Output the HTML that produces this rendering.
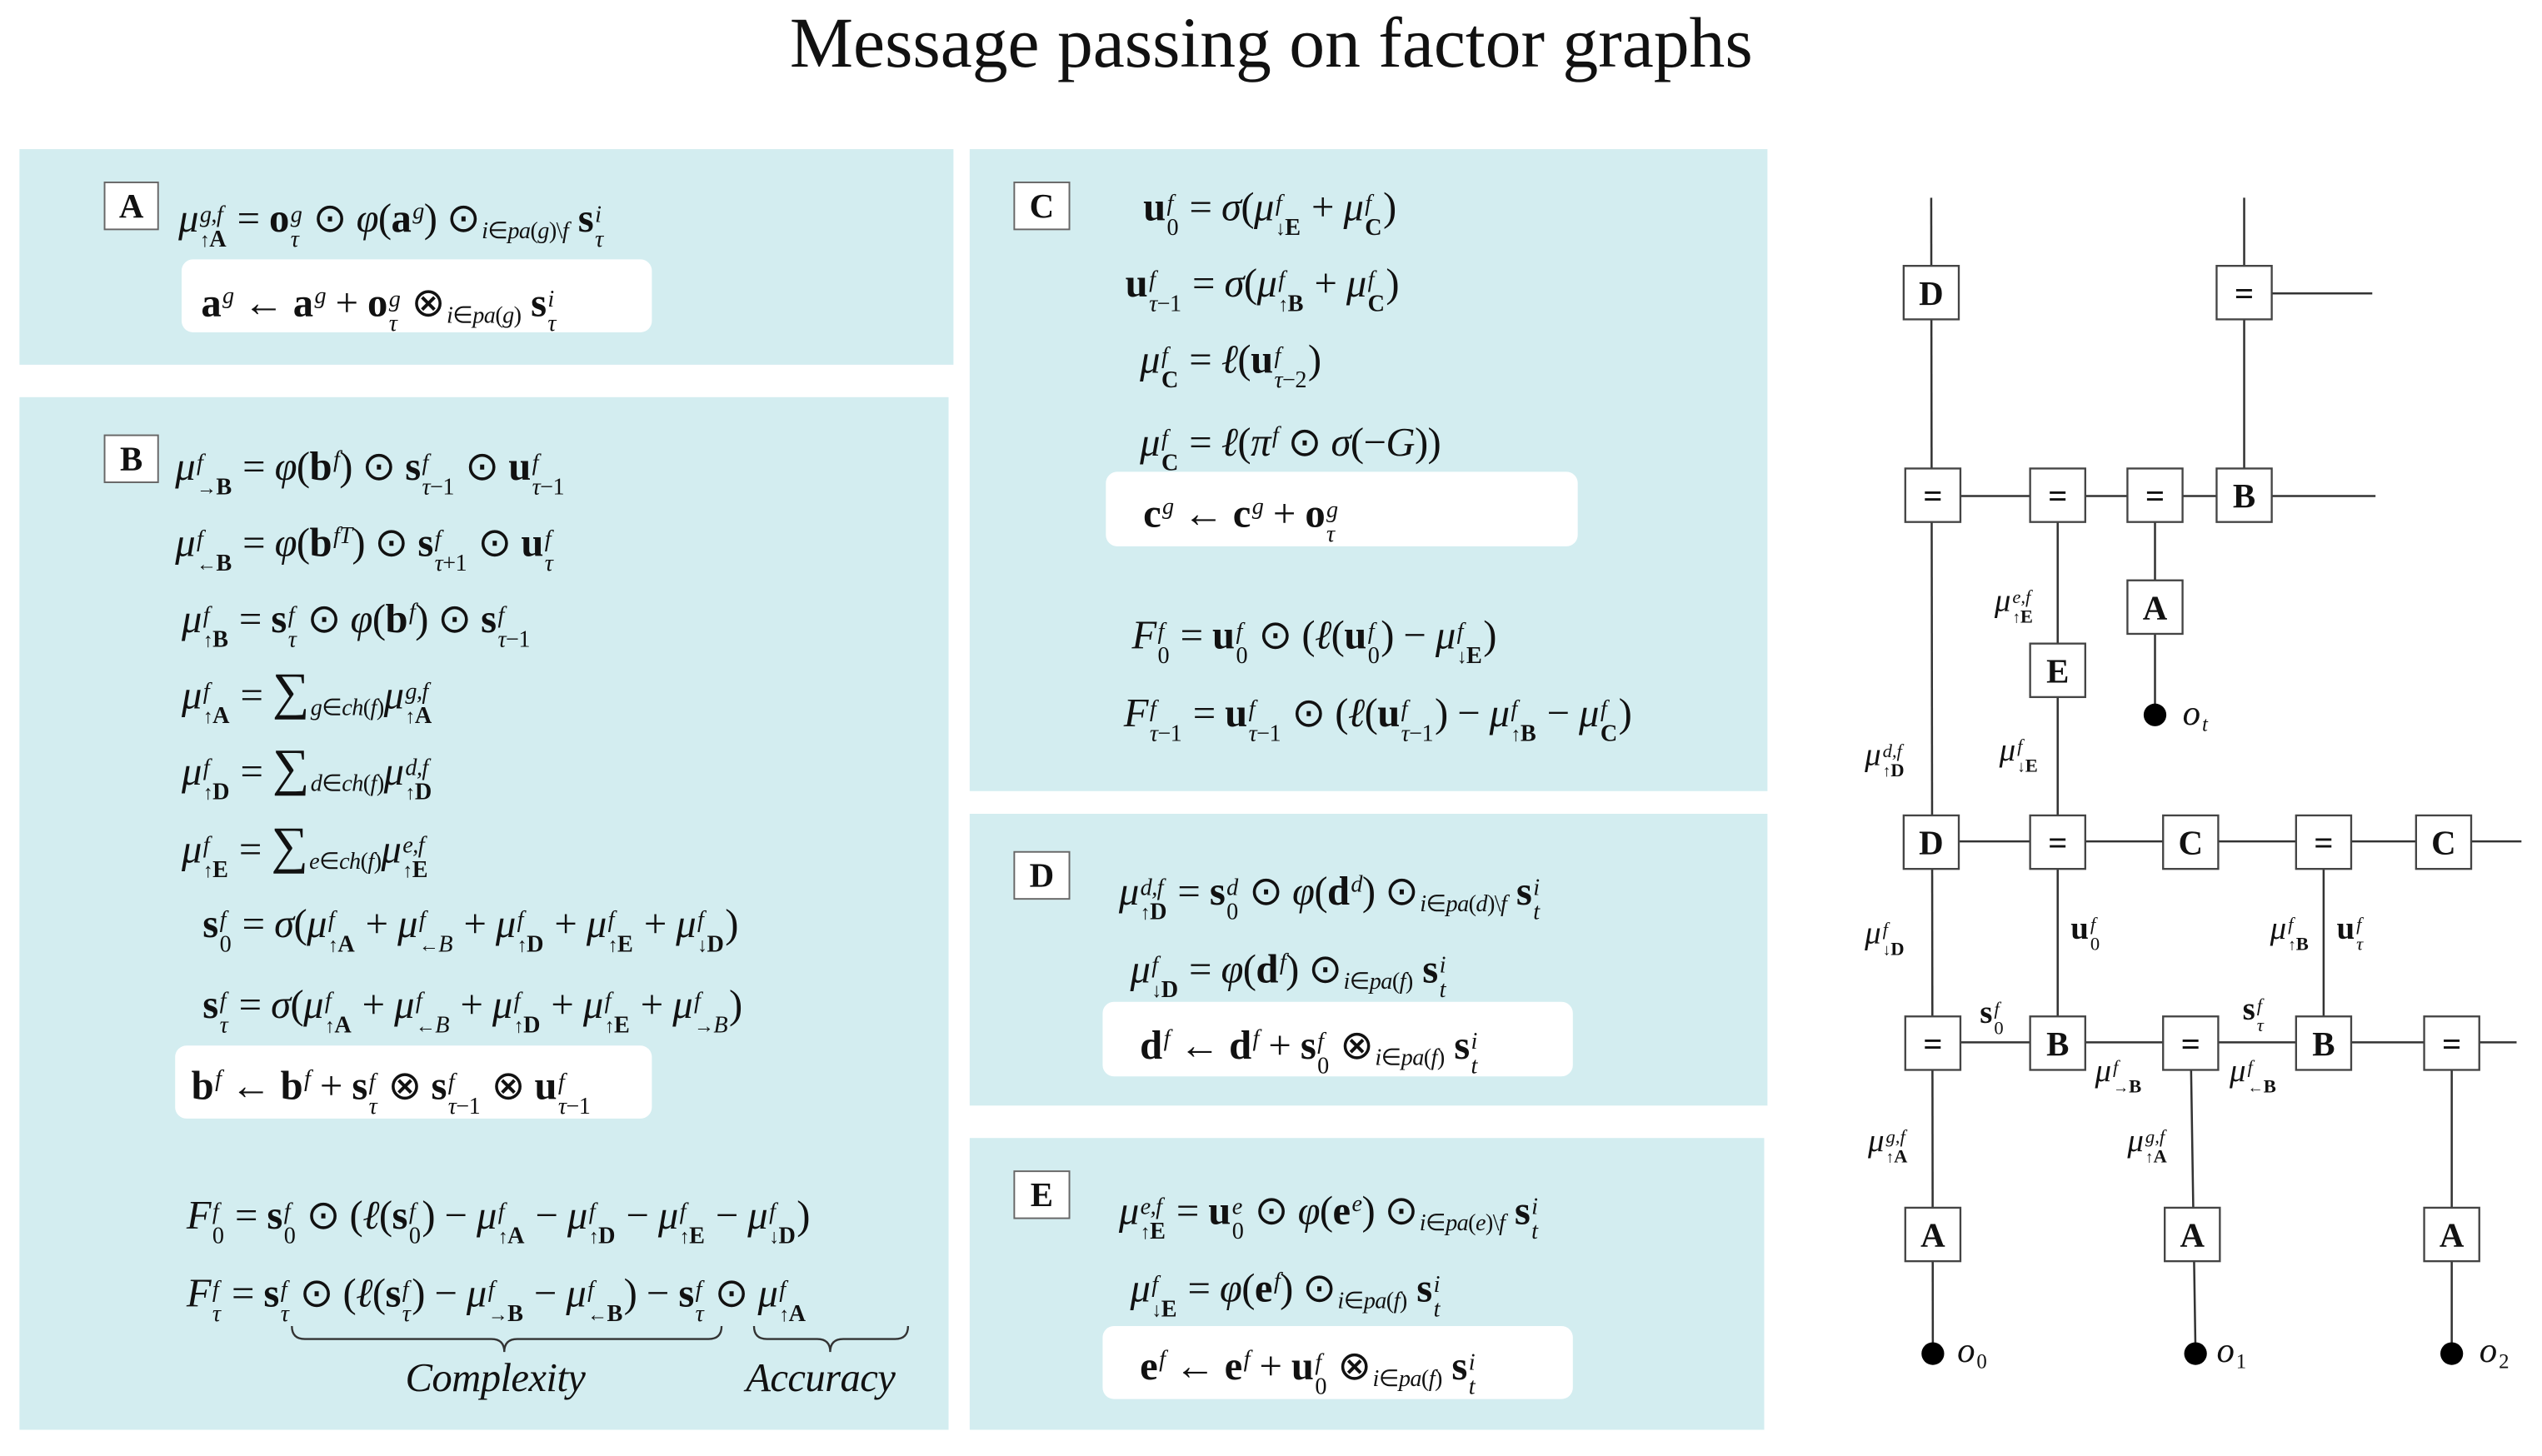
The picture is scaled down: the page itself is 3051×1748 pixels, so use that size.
<!DOCTYPE html>
<html><head><meta charset="utf-8">
<style>
html,body{margin:0;padding:0;background:#fff;}
body{width:3051px;height:1747px;overflow:hidden;position:relative;}
#w{position:absolute;left:0;top:0;width:1568px;height:898px;transform-origin:0 0;transform:scale(1.9462,1.9462);font-family:"Liberation Serif",serif;color:#111;}
.p{position:absolute;background:#d3edf0;}
.wb{position:absolute;background:#fff;border-radius:7px;}
.bx{position:absolute;background:#fff;border:1px solid #666;font-weight:bold;font-size:21px;text-align:center;box-sizing:border-box;}
.t{position:absolute;white-space:nowrap;line-height:30px;font-size:25px;letter-spacing:-0.3px;}
.g{position:absolute;white-space:nowrap;line-height:30px;font-size:20px;}
i{font-style:italic;}
b{font-weight:bold;}
.ss{display:inline-flex;flex-direction:column;font-size:0.58em;line-height:1.05em;vertical-align:0.42em;margin-left:1px;margin-right:1px;}
.sp{font-size:0.58em;vertical-align:0.55em;margin-left:1px;}
.sb{font-size:0.58em;vertical-align:-0.3em;margin-left:1px;}
.ar{font-weight:normal;font-size:0.85em;}
</style></head><body><div id="w">

<div style="position:absolute;left:0;width:1568px;top:2px;text-align:center;font-size:44px;line-height:50px;">Message passing on factor graphs</div>

<div class="p" style="left:12px;top:92px;width:576px;height:133px;"></div>
<div class="p" style="left:12px;top:245px;width:573px;height:637px;"></div>
<div class="p" style="left:598px;top:92px;width:492px;height:396px;"></div>
<div class="p" style="left:598px;top:502px;width:492px;height:180px;"></div>
<div class="p" style="left:598px;top:702px;width:490px;height:180px;"></div>

<div class="wb" style="left:112px;top:160px;width:290px;height:45px;"></div>
<div class="wb" style="left:108px;top:645px;width:294px;height:45px;"></div>
<div class="wb" style="left:682px;top:291px;width:291px;height:46px;"></div>
<div class="wb" style="left:680px;top:618px;width:290px;height:46px;"></div>
<div class="wb" style="left:680px;top:818px;width:290px;height:45px;"></div>

<div class="bx" style="left:64px;top:112px;width:34px;height:30px;line-height:28px;">A</div>
<div class="bx" style="left:64px;top:268px;width:34px;height:30px;line-height:28px;">B</div>
<div class="bx" style="left:625px;top:112px;width:35px;height:30px;line-height:28px;">C</div>
<div class="bx" style="left:625px;top:525px;width:35px;height:30px;line-height:28px;">D</div>
<div class="bx" style="left:625px;top:722px;width:35px;height:30px;line-height:28px;">E</div>

<div class="t" style="left:110px;top:116px;"><i>μ</i><span class="ss"><i>g,f</i><b><span class="ar">↑</span>A</b></span> = <b>o</b><span class="ss"><i>g</i><i>τ</i></span> ⊙ <i>φ</i>(<b>a</b><span class="sp"><i>g</i></span>) ⊙<span class="sb"><i>i</i>∈<i>pa</i>(<i>g</i>)\<i>f</i></span> <b>s</b><span class="ss"><i>i</i><i>τ</i></span></div>
<div class="t" style="left:124px;top:168px;"><b>a</b><span class="sp"><i>g</i></span> ← <b>a</b><span class="sp"><i>g</i></span> + <b>o</b><span class="ss"><i>g</i><i>τ</i></span> ⊗<span class="sb"><i>i</i>∈<i>pa</i>(<i>g</i>)</span> <b>s</b><span class="ss"><i>i</i><i>τ</i></span></div>

<div class="t" style="left:108px;top:269px;"><i>μ</i><span class="ss"><i>f</i><b><span class="ar">→</span>B</b></span> = <i>φ</i>(<b>b</b><span class="sp"><i>f</i></span>) ⊙ <b>s</b><span class="ss"><i>f</i><span><i>τ</i>−1</span></span> ⊙ <b>u</b><span class="ss"><i>f</i><span><i>τ</i>−1</span></span></div>
<div class="t" style="left:108px;top:316px;"><i>μ</i><span class="ss"><i>f</i><b><span class="ar">←</span>B</b></span> = <i>φ</i>(<b>b</b><span class="sp"><i>fT</i></span>) ⊙ <b>s</b><span class="ss"><i>f</i><span><i>τ</i>+1</span></span> ⊙ <b>u</b><span class="ss"><i>f</i><i>τ</i></span></div>
<div class="t" style="left:112px;top:363px;"><i>μ</i><span class="ss"><i>f</i><b><span class="ar">↑</span>B</b></span> = <b>s</b><span class="ss"><i>f</i><i>τ</i></span> ⊙ <i>φ</i>(<b>b</b><span class="sp"><i>f</i></span>) ⊙ <b>s</b><span class="ss"><i>f</i><span><i>τ</i>−1</span></span></div>
<div class="t" style="left:112px;top:411px;"><i>μ</i><span class="ss"><i>f</i><b><span class="ar">↑</span>A</b></span> = <span style="font-size:32px">∑</span><span class="sb"><i>g</i>∈<i>ch</i>(<i>f</i>)</span><i>μ</i><span class="ss"><i>g,f</i><b><span class="ar">↑</span>A</b></span></div>
<div class="t" style="left:112px;top:458px;"><i>μ</i><span class="ss"><i>f</i><b><span class="ar">↑</span>D</b></span> = <span style="font-size:32px">∑</span><span class="sb"><i>d</i>∈<i>ch</i>(<i>f</i>)</span><i>μ</i><span class="ss"><i>d,f</i><b><span class="ar">↑</span>D</b></span></div>
<div class="t" style="left:112px;top:506px;"><i>μ</i><span class="ss"><i>f</i><b><span class="ar">↑</span>E</b></span> = <span style="font-size:32px">∑</span><span class="sb"><i>e</i>∈<i>ch</i>(<i>f</i>)</span><i>μ</i><span class="ss"><i>e,f</i><b><span class="ar">↑</span>E</b></span></div>
<div class="t" style="left:125px;top:556px;"><b>s</b><span class="ss"><i>f</i><span>0</span></span> = <i>σ</i>(<i>μ</i><span class="ss"><i>f</i><b><span class="ar">↑</span>A</b></span> + <i>μ</i><span class="ss"><i>f</i><i><span class="ar">←</span>B</i></span> + <i>μ</i><span class="ss"><i>f</i><b><span class="ar">↑</span>D</b></span> + <i>μ</i><span class="ss"><i>f</i><b><span class="ar">↑</span>E</b></span> + <i>μ</i><span class="ss"><i>f</i><b><span class="ar">↓</span>D</b></span>)</div>
<div class="t" style="left:125px;top:606px;"><b>s</b><span class="ss"><i>f</i><i>τ</i></span> = <i>σ</i>(<i>μ</i><span class="ss"><i>f</i><b><span class="ar">↑</span>A</b></span> + <i>μ</i><span class="ss"><i>f</i><i><span class="ar">←</span>B</i></span> + <i>μ</i><span class="ss"><i>f</i><b><span class="ar">↑</span>D</b></span> + <i>μ</i><span class="ss"><i>f</i><b><span class="ar">↑</span>E</b></span> + <i>μ</i><span class="ss"><i>f</i><i><span class="ar">→</span>B</i></span>)</div>
<div class="t" style="left:118px;top:651px;"><b>b</b><span class="sp"><i>f</i></span> ← <b>b</b><span class="sp"><i>f</i></span> + <b>s</b><span class="ss"><i>f</i><i>τ</i></span> ⊗ <b>s</b><span class="ss"><i>f</i><span><i>τ</i>−1</span></span> ⊗ <b>u</b><span class="ss"><i>f</i><span><i>τ</i>−1</span></span></div>
<div class="t" style="left:115px;top:736px;"><i>F</i><span class="ss"><i>f</i><span>0</span></span> = <b>s</b><span class="ss"><i>f</i><span>0</span></span> ⊙ (<i>ℓ</i>(<b>s</b><span class="ss"><i>f</i><span>0</span></span>) − <i>μ</i><span class="ss"><i>f</i><b><span class="ar">↑</span>A</b></span> − <i>μ</i><span class="ss"><i>f</i><b><span class="ar">↑</span>D</b></span> − <i>μ</i><span class="ss"><i>f</i><b><span class="ar">↑</span>E</b></span> − <i>μ</i><span class="ss"><i>f</i><b><span class="ar">↓</span>D</b></span>)</div>
<div class="t" style="left:115px;top:784px;"><i>F</i><span class="ss"><i>f</i><i>τ</i></span> = <b>s</b><span class="ss"><i>f</i><i>τ</i></span> ⊙ (<i>ℓ</i>(<b>s</b><span class="ss"><i>f</i><i>τ</i></span>) − <i>μ</i><span class="ss"><i>f</i><b><span class="ar">→</span>B</b></span> − <i>μ</i><span class="ss"><i>f</i><b><span class="ar">←</span>B</b></span>) − <b>s</b><span class="ss"><i>f</i><i>τ</i></span> ⊙ <i>μ</i><span class="ss"><i>f</i><b><span class="ar">↑</span>A</b></span></div>
<div class="t" style="left:250px;top:836px;"><i>Complexity</i></div>
<div class="t" style="left:460px;top:836px;"><i>Accuracy</i></div>

<div class="t" style="left:705px;top:114px;"><b>u</b><span class="ss"><i>f</i><span>0</span></span> = <i>σ</i>(<i>μ</i><span class="ss"><i>f</i><b><span class="ar">↓</span>E</b></span> + <i>μ</i><span class="ss"><i>f</i><b>C</b></span>)</div>
<div class="t" style="left:694px;top:161px;"><b>u</b><span class="ss"><i>f</i><span><i>τ</i>−1</span></span> = <i>σ</i>(<i>μ</i><span class="ss"><i>f</i><b><span class="ar">↑</span>B</b></span> + <i>μ</i><span class="ss"><i>f</i><b>C</b></span>)</div>
<div class="t" style="left:703px;top:208px;"><i>μ</i><span class="ss"><i>f</i><b>C</b></span> = <i>ℓ</i>(<b>u</b><span class="ss"><i>f</i><span><i>τ</i>−2</span></span>)</div>
<div class="t" style="left:703px;top:254px;"><i>μ</i><span class="ss"><i>f</i><b>C</b></span> = <i>ℓ</i>(<i>π</i><span class="sp"><i>f</i></span> ⊙ <i>σ</i>(−<i>G</i>))</div>
<div class="t" style="left:705px;top:298px;"><b>c</b><span class="sp"><i>g</i></span> ← <b>c</b><span class="sp"><i>g</i></span> + <b>o</b><span class="ss"><i>g</i><i>τ</i></span></div>
<div class="t" style="left:698px;top:378px;"><i>F</i><span class="ss"><i>f</i><span>0</span></span> = <b>u</b><span class="ss"><i>f</i><span>0</span></span> ⊙ (<i>ℓ</i>(<b>u</b><span class="ss"><i>f</i><span>0</span></span>) − <i>μ</i><span class="ss"><i>f</i><b><span class="ar">↓</span>E</b></span>)</div>
<div class="t" style="left:693px;top:426px;"><i>F</i><span class="ss"><i>f</i><span><i>τ</i>−1</span></span> = <b>u</b><span class="ss"><i>f</i><span><i>τ</i>−1</span></span> ⊙ (<i>ℓ</i>(<b>u</b><span class="ss"><i>f</i><span><i>τ</i>−1</span></span>) − <i>μ</i><span class="ss"><i>f</i><b><span class="ar">↑</span>B</b></span> − <i>μ</i><span class="ss"><i>f</i><b>C</b></span>)</div>

<div class="t" style="left:690px;top:531px;"><i>μ</i><span class="ss"><i>d,f</i><b><span class="ar">↑</span>D</b></span> = <b>s</b><span class="ss"><i>d</i><span>0</span></span> ⊙ <i>φ</i>(<b>d</b><span class="sp"><i>d</i></span>) ⊙<span class="sb"><i>i</i>∈<i>pa</i>(<i>d</i>)\<i>f</i></span> <b>s</b><span class="ss"><i>i</i><i>t</i></span></div>
<div class="t" style="left:697px;top:579px;"><i>μ</i><span class="ss"><i>f</i><b><span class="ar">↓</span>D</b></span> = <i>φ</i>(<b>d</b><span class="sp"><i>f</i></span>) ⊙<span class="sb"><i>i</i>∈<i>pa</i>(<i>f</i>)</span> <b>s</b><span class="ss"><i>i</i><i>t</i></span></div>
<div class="t" style="left:703px;top:626px;"><b>d</b><span class="sp"><i>f</i></span> ← <b>d</b><span class="sp"><i>f</i></span> + <b>s</b><span class="ss"><i>f</i><span>0</span></span> ⊗<span class="sb"><i>i</i>∈<i>pa</i>(<i>f</i>)</span> <b>s</b><span class="ss"><i>i</i><i>t</i></span></div>

<div class="t" style="left:690px;top:728px;"><i>μ</i><span class="ss"><i>e,f</i><b><span class="ar">↑</span>E</b></span> = <b>u</b><span class="ss"><i>e</i><span>0</span></span> ⊙ <i>φ</i>(<b>e</b><span class="sp"><i>e</i></span>) ⊙<span class="sb"><i>i</i>∈<i>pa</i>(<i>e</i>)\<i>f</i></span> <b>s</b><span class="ss"><i>i</i><i>t</i></span></div>
<div class="t" style="left:697px;top:776px;"><i>μ</i><span class="ss"><i>f</i><b><span class="ar">↓</span>E</b></span> = <i>φ</i>(<b>e</b><span class="sp"><i>f</i></span>) ⊙<span class="sb"><i>i</i>∈<i>pa</i>(<i>f</i>)</span> <b>s</b><span class="ss"><i>i</i><i>t</i></span></div>
<div class="t" style="left:703px;top:824px;"><b>e</b><span class="sp"><i>f</i></span> ← <b>e</b><span class="sp"><i>f</i></span> + <b>u</b><span class="ss"><i>f</i><span>0</span></span> ⊗<span class="sb"><i>i</i>∈<i>pa</i>(<i>f</i>)</span> <b>s</b><span class="ss"><i>i</i><i>t</i></span></div>

<svg style="position:absolute;left:0;top:0" width="1568" height="898" viewBox="0 0 1568 898">
<g fill="none" stroke="#333" stroke-width="1.2">
<path d="M180,818 q0,8 8,8 h115 q8,0 8,8 q0,-8 8,-8 h118 q8,0 8,-8"/>
<path d="M465,818 q0,8 8,8 h31 q8,0 8,8 q0,-8 8,-8 h32 q8,0 8,-8"/>
</g>
<g stroke="#333" stroke-width="1.3" fill="none">
<line x1="1191" y1="122" x2="1192" y2="835"/>
<line x1="1384" y1="122" x2="1384" y2="306"/>
<line x1="1384" y1="181" x2="1463" y2="181"/>
<line x1="1191" y1="306" x2="1465" y2="306"/>
<line x1="1269" y1="306" x2="1269" y2="643"/>
<line x1="1329" y1="306" x2="1329" y2="441"/>
<line x1="1191" y1="519" x2="1555" y2="519"/>
<line x1="1433" y1="519" x2="1433" y2="643"/>
<line x1="1191" y1="643" x2="1552" y2="643"/>
<line x1="1351" y1="643" x2="1354" y2="835"/>
<line x1="1512" y1="643" x2="1512" y2="835"/>
</g>
<g fill="#000">
<circle cx="1192" cy="835" r="7"/><circle cx="1354" cy="835" r="7"/><circle cx="1512" cy="835" r="7"/><circle cx="1329" cy="441" r="7"/>
</g>
<g fill="#fff" stroke="#444" stroke-width="1.2">
<rect x="1174" y="164" width="34" height="33"/>
<rect x="1367" y="164" width="34" height="33"/>
<rect x="1175" y="289" width="34" height="33"/>
<rect x="1252" y="289" width="34" height="33"/>
<rect x="1312" y="289" width="34" height="33"/>
<rect x="1367" y="289" width="34" height="33"/>
<rect x="1312" y="358" width="34" height="33"/>
<rect x="1252" y="397" width="34" height="33"/>
<rect x="1174" y="503" width="34" height="33"/>
<rect x="1252" y="503" width="34" height="33"/>
<rect x="1334" y="503" width="34" height="33"/>
<rect x="1416" y="503" width="34" height="33"/>
<rect x="1490" y="503" width="34" height="33"/>
<rect x="1175" y="627" width="34" height="33"/>
<rect x="1252" y="627" width="34" height="33"/>
<rect x="1334" y="627" width="34" height="33"/>
<rect x="1416" y="627" width="34" height="33"/>
<rect x="1495" y="627" width="34" height="33"/>
<rect x="1175" y="745" width="34" height="33"/>
<rect x="1335" y="745" width="34" height="33"/>
<rect x="1495" y="745" width="34" height="33"/>
</g>
<g font-family="Liberation Serif, serif" font-weight="bold" font-size="21" text-anchor="middle" fill="#111">
<text x="1191" y="188">D</text><text x="1384" y="188">=</text>
<text x="1192" y="313">=</text><text x="1269" y="313">=</text><text x="1329" y="313">=</text><text x="1384" y="313">B</text>
<text x="1329" y="382">A</text><text x="1269" y="421">E</text>
<text x="1191" y="527">D</text><text x="1269" y="527">=</text><text x="1351" y="527">C</text><text x="1433" y="527">=</text><text x="1507" y="527">C</text>
<text x="1192" y="651">=</text><text x="1269" y="651">B</text><text x="1351" y="651">=</text><text x="1433" y="651">B</text><text x="1512" y="651">=</text>
<text x="1192" y="769">A</text><text x="1352" y="769">A</text><text x="1512" y="769">A</text>
</g>
</svg>

<div class="g" style="left:1230px;top:356px;"><i>μ</i><span class="ss"><i>e,f</i><b><span class="ar">↑</span>E</b></span></div>
<div class="g" style="left:1233px;top:448px;"><i>μ</i><span class="ss"><i>f</i><b><span class="ar">↓</span>E</b></span></div>
<div class="g" style="left:1150px;top:451px;"><i>μ</i><span class="ss"><i>d,f</i><b><span class="ar">↑</span>D</b></span></div>
<div class="g" style="left:1150px;top:561px;"><i>μ</i><span class="ss"><i>f</i><b><span class="ar">↓</span>D</b></span></div>
<div class="g" style="left:1277px;top:558px;"><b>u</b><span class="ss"><i>f</i><span>0</span></span></div>
<div class="g" style="left:1400px;top:558px;"><i>μ</i><span class="ss"><i>f</i><b><span class="ar">↑</span>B</b></span></div>
<div class="g" style="left:1441px;top:558px;"><b>u</b><span class="ss"><i>f</i><i>τ</i></span></div>
<div class="g" style="left:1221px;top:610px;"><b>s</b><span class="ss"><i>f</i><span>0</span></span></div>
<div class="g" style="left:1383px;top:608px;"><b>s</b><span class="ss"><i>f</i><i>τ</i></span></div>
<div class="g" style="left:1292px;top:646px;"><i>μ</i><span class="ss"><i>f</i><b><span class="ar">→</span>B</b></span></div>
<div class="g" style="left:1375px;top:646px;"><i>μ</i><span class="ss"><i>f</i><b><span class="ar">←</span>B</b></span></div>
<div class="g" style="left:1152px;top:689px;"><i>μ</i><span class="ss"><i>g,f</i><b><span class="ar">↑</span>A</b></span></div>
<div class="g" style="left:1312px;top:689px;"><i>μ</i><span class="ss"><i>g,f</i><b><span class="ar">↑</span>A</b></span></div>
<div class="g" style="left:1207px;top:818px;font-size:22px;"><i>o</i><span class="sb">0</span></div>
<div class="g" style="left:1367px;top:818px;font-size:22px;"><i>o</i><span class="sb">1</span></div>
<div class="g" style="left:1529px;top:818px;font-size:22px;"><i>o</i><span class="sb">2</span></div>
<div class="g" style="left:1346px;top:425px;font-size:22px;"><i>o</i><span class="sb"><i>t</i></span></div>

</div></body></html>
